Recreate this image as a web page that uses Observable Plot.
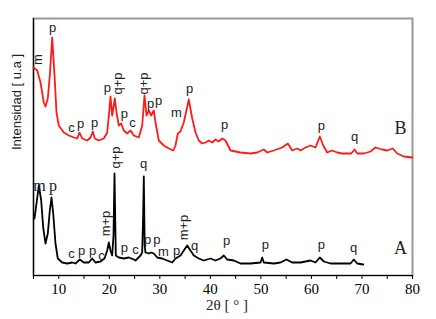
<!DOCTYPE html>
<html>
<head>
<meta charset="utf-8">
<script src="https://cdn.jsdelivr.net/npm/d3@7"></script>
<script src="https://cdn.jsdelivr.net/npm/@observablehq/plot@0.6"></script>
<style>
  html, body { margin: 0; padding: 0; background: #fff; }
</style>
</head>
<body>
<div id="chart"></div>
<script>
// Sample B (red), 2θ in degrees and intensity (arbitrary units)
const thetaB = [5.0,5.73,6.39,7.04,7.37,7.83,8.23,8.70,9.16,9.55,10.0,11.0,12.0,12.98,13.65,14.1,14.64,15.63,16.28,16.74,17.13,17.92,18.91,19.59,20.04,20.24,20.57,21.09,21.43,21.88,22.36,22.87,23.54,24.2,24.85,25.84,26.51,26.97,27.36,27.82,28.29,28.81,29.14,29.8,30.79,31.78,32.65,33.1,33.56,34.09,34.74,35.73,36.41,37.06,37.71,38.39,39.04,39.69,40.37,41.02,41.67,42.34,43.0,43.99,44.98,45.97,47.95,49.27,50.58,51.25,52.56,54.22,55.33,56.2,57.19,57.84,58.83,59.82,60.81,61.66,62.34,63.12,64.11,65.1,66.09,67.08,67.87,68.53,69.06,70.37,71.69,72.68,74.0,74.99,76.1,76.98,78.28,79.95];
const intensityB = [208,205,193,173,169,177,200,238,200,163,150,143,140,138,137,143,137,135,138,144,137,135,137,143,167,179,160,177,163,150,152,145,142,145,140,138,150,180,160,165,160,165,153,135,130,127,125,130,142,144,153,176,157,143,135,132,133,135,133,136,134,137,135,125,124,123,122,123,126,123,125,128,132,125,127,125,128,130,128,139,130,123,125,123,122,122,122,126,122,122,124,128,126,125,127,122,119,118];

// Sample A (black)
const thetaA = [5.2,5.59,6.05,6.52,6.92,7.37,7.83,8.23,8.56,8.9,9.35,9.81,10.68,11.67,12.66,13.31,14.16,14.95,15.94,16.62,17.27,18.26,19.05,19.59,19.9,20.24,20.57,20.83,21.03,21.29,21.88,22.87,23.86,24.85,25.19,26.18,26.51,26.7,26.83,27.0,27.16,27.82,28.29,28.81,29.48,30.47,31.46,32.45,33.1,34.09,34.74,35.42,36.07,36.72,37.71,38.7,40.03,41.02,42.0,42.66,43.33,44.64,45.97,47.95,49.93,50.26,50.58,52.56,53.88,55.07,56.2,57.84,59.82,60.81,61.66,62.46,63.78,65.76,67.74,68.39,69.06,70.25];
const intensityA = [57,72,90,75,48,32,42,65,78,62,32,17,13,12,13,12,16,13,13,17,13,14,17,25,33,25,20,40,102,20,18,17,18,16,15,20,23,60,99,30,23,22,23,22,18,17,15,13,17,20,25,30,25,20,17,15,17,15,17,20,16,15,12,12,13,18,13,12,13,16,13,13,15,13,18,14,12,12,12,16,12,11];

// Peak annotations (phase letters)
const labelsB = ["p","c","p","p","p","p","c","p","p","m","p","p","p","q"];
const labelThetaB = [8.76,12.52,14.3,17.07,19.64,23.0,24.6,28.15,29.74,33.3,35.87,42.8,61.94,68.53];
const labelYB = [248,148,152,153,188,162,153,172,175,163,187,151,150,139];
const rotLabelsB = ["m","q+p","q+p"];
const rotThetaB = [5.79,21.62,26.77];
const rotYB = [216,192,192];

const labelsA = ["c","p","p","c","p","c","q","p","p","m","p","q","p","p","p","q"];
const labelThetaA = [12.52,14.5,16.68,18.46,23.0,25.19,26.77,27.6,29.4,30.7,33.3,36.86,43.2,50.9,61.94,68.33];
const labelYA = [22,25,25,20,28,26,112,36,36,24,25,30,35,31,31,28];
const serifLabelsA = ["m","p"];
const serifThetaA = [6.19,8.86];
const serifYA = [90,90];
const rotLabelsA = ["m+p","q+p","m+p"];
const rotThetaA = [19.25,21.23,34.69];
const rotYA = [52,118,48];

const seriesNames = ["A","B"];
const seriesTheta = [77.63,77.63];
const seriesY = [27,147];

const majorTicks = [10,20,30,40,50,60,70,80];
const minorTicks = [5,15,25,35,45,55,65,75];

const toRows = (xs, ys, extra) => xs.map((x, i) => ({x, y: ys[i], ...(extra ? {t: extra[i]} : {})}));

const serif = "'Liberation Serif', 'DejaVu Serif', serif";
const sans = "'Liberation Sans', Arial, sans-serif";

const chart = Plot.plot({
  width: 436,
  height: 319,
  marginLeft: 33,
  marginRight: 24,
  marginTop: 18,
  marginBottom: 44,
  x: {domain: [5, 80]},
  y: {domain: [0, 257], axis: null},
  style: {background: "#fff", color: "#000", fontFamily: sans},
  marks: [
    Plot.frame({stroke: "#999", strokeWidth: 2}),
    Plot.ruleX([5], {stroke: "#000", strokeWidth: 1.2}),
    Plot.ruleY([0], {stroke: "#000", strokeWidth: 1.2}),
    Plot.axisX({ticks: majorTicks, tickSize: 4, tickPadding: 4, fontSize: 15, fontFamily: serif, label: null, tickFormat: d => String(d)}),
    Plot.axisX({ticks: minorTicks, tickSize: 4, text: null, label: null}),
    Plot.line(toRows(thetaB, intensityB), {x: "x", y: "y", stroke: "#ff1a1a", strokeWidth: 1.8}),
    Plot.line(toRows(thetaA, intensityA), {x: "x", y: "y", stroke: "#000", strokeWidth: 1.8}),
    Plot.text(toRows(labelThetaB, labelYB, labelsB), {x: "x", y: "y", text: "t", fontSize: 13, fill: "#222", fontFamily: sans}),
    Plot.text(toRows(rotThetaB, rotYB, rotLabelsB), {x: "x", y: "y", text: "t", rotate: -90, fontSize: 13, fill: "#222", fontFamily: sans}),
    Plot.text(toRows(labelThetaA, labelYA, labelsA), {x: "x", y: "y", text: "t", fontSize: 13, fill: "#222", fontFamily: sans}),
    Plot.text(toRows(serifThetaA, serifYA, serifLabelsA), {x: "x", y: "y", text: "t", fontSize: 16, fill: "#222", fontFamily: serif}),
    Plot.text(toRows(rotThetaA, rotYA, rotLabelsA), {x: "x", y: "y", text: "t", rotate: -90, fontSize: 13, fill: "#222", fontFamily: sans}),
    Plot.text(toRows(seriesTheta, seriesY, seriesNames), {x: "x", y: "y", text: "t", fontSize: 18, fill: "#222", fontFamily: serif}),
    Plot.text(["Intensidad [ u.a ]"], {frameAnchor: "left", dx: -17, dy: 3, rotate: -90, fontSize: 13, fill: "#222", fontFamily: sans}),
    Plot.text(["2θ [ ° ]"], {frameAnchor: "bottom", dx: 4, dy: 34, fontSize: 15, fill: "#222", fontFamily: serif})
  ]
});
document.getElementById("chart").appendChild(chart);
</script>
</body>
</html>
